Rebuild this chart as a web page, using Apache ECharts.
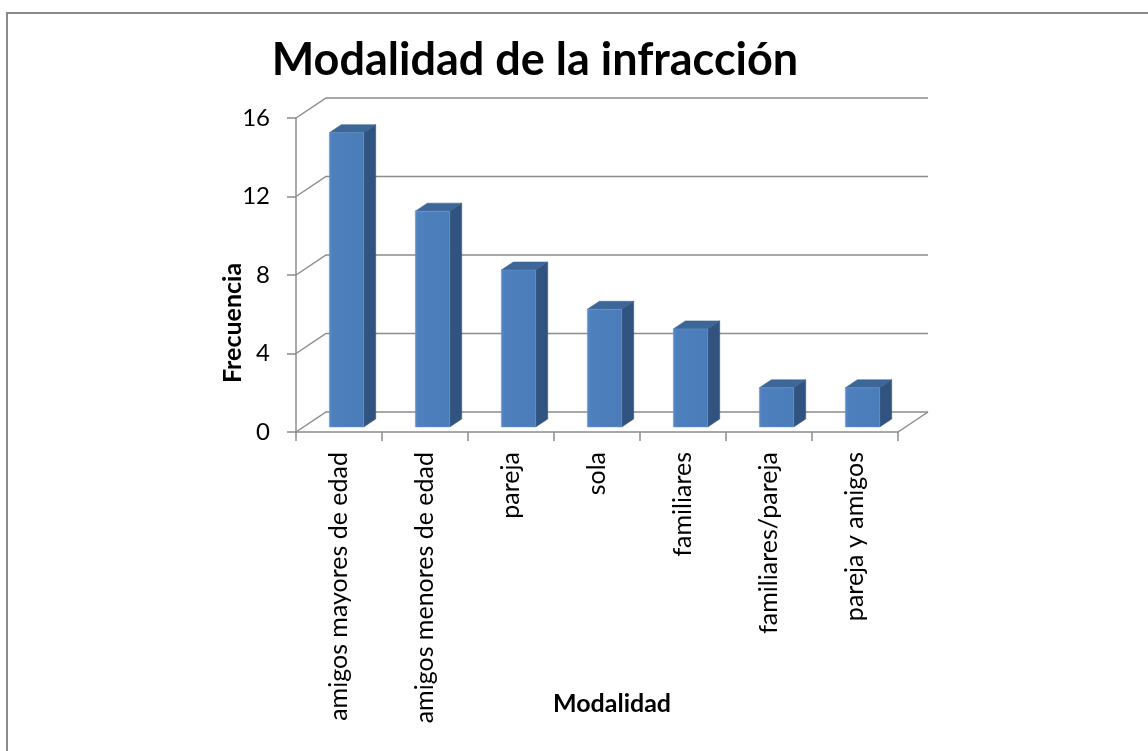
<!DOCTYPE html>
<html>
<head>
<meta charset="utf-8">
<script src="https://cdn.jsdelivr.net/npm/echarts@6/dist/echarts.min.js"></script>
<style>
html,body{margin:0;padding:0;background:#fff;}
#chart{width:1148px;height:751px;}
</style>
</head>
<body>
<div id="chart"></div>
<script>
const categories = ['amigos mayores de edad','amigos menores de edad','pareja','sola','familiares','familiares/pareja','pareja y amigos'];
const frecuencia = [15, 11, 8, 6, 5, 2, 2];
const yTicks = [0, 4, 8, 12, 16];
const titleText = 'Modalidad de la infracción';
const xName = 'Modalidad';
const yName = 'Frecuencia';

const DEPTH_X = 30, DEPTH_Y = -20;       // full depth of the 3D floor
const BAR_FRONT = 0.25, BAR_DEPTH = 0.4; // bar position within depth
const FONT = 'Lato, "Open Sans", sans-serif';
const GRID_COLOR = '#8c8c8c';

const chart = echarts.init(document.getElementById('chart'));

function renderGrid(params, api) {
  const cs = params.coordSys;
  const v = api.value(0);
  const y = api.coord([0, v])[1];
  const x0 = cs.x, x1 = cs.x + cs.width;
  const children = [{
    type: 'polyline',
    shape: { points: [[x0, y], [x0 + DEPTH_X, y + DEPTH_Y], [x1 + DEPTH_X, y + DEPTH_Y]] },
    style: { stroke: GRID_COLOR, lineWidth: 1.5, fill: null }
  }];
  if (v === 0) {
    children.push({
      type: 'line',
      shape: { x1: x1, y1: y, x2: x1 + DEPTH_X, y2: y + DEPTH_Y },
      style: { stroke: GRID_COLOR, lineWidth: 1.5 }
    });
  }
  return { type: 'group', children: children };
}

function renderBar(params, api) {
  const idx = api.value(0);
  const val = api.value(1);
  const base = api.coord([idx, 0]);
  const top = api.coord([idx, val]);
  const band = api.size([1, 0])[0];
  const w = band * 0.4;
  const ox = DEPTH_X * BAR_FRONT, oy = DEPTH_Y * BAR_FRONT;
  const dx = DEPTH_X * BAR_DEPTH, dy = DEPTH_Y * BAR_DEPTH;
  const xl = base[0] - w / 2 + ox, xr = xl + w;
  const yb = base[1] + oy, yt = top[1] + oy;
  return {
    type: 'group',
    children: [
      { type: 'polygon', shape: { points: [[xr, yb], [xr + dx, yb + dy], [xr + dx, yt + dy], [xr, yt]] },
        style: { fill: '#31537f', stroke: '#2c4a72', lineWidth: 0.5 } },
      { type: 'polygon', shape: { points: [[xl, yt], [xr, yt], [xr + dx, yt + dy], [xl + dx, yt + dy]] },
        style: { fill: '#3d6699', stroke: '#36608f', lineWidth: 0.5 } },
      { type: 'rect', shape: { x: xl, y: yt, width: w, height: yb - yt },
        style: { fill: new echarts.graphic.LinearGradient(0, 0, 1, 0, [
          { offset: 0, color: '#5a8dcb' }, { offset: 0.08, color: '#4d80bd' }, { offset: 1, color: '#4a7cb9' }]),
          stroke: '#6f9bd0', lineWidth: 0.5 } }
    ]
  };
}

chart.setOption({
  animation: false,
  backgroundColor: '#ffffff',
  title: {
    text: titleText, left: 530, top: 33, textAlign: 'center',
    textStyle: { fontFamily: FONT, fontSize: 45, fontWeight: 'bold', color: '#000' }
  },
  graphic: [
    { type: 'rect', shape: { x: 7, y: 13, width: 1160, height: 760 },
      style: { fill: null, stroke: '#8a8a8a', lineWidth: 2 }, silent: true, z: -10 },
    { type: 'text', x: 233, y: 323, rotation: Math.PI / 2,
      style: { text: yName, font: 'bold 25px ' + FONT, fill: '#000', align: 'center', verticalAlign: 'middle' } },
    { type: 'text', x: 612, y: 704,
      style: { text: xName, font: 'bold 25px ' + FONT, fill: '#000', align: 'center', verticalAlign: 'middle' } }
  ],
  grid: { left: 296, right: 250, top: 118, bottom: 319, containLabel: false },
  xAxis: {
    type: 'category', data: categories, boundaryGap: true,
    axisLine: { show: true, lineStyle: { color: GRID_COLOR, width: 1.5 } },
    axisTick: { show: true, length: 9, inside: false, lineStyle: { color: GRID_COLOR, width: 1.5 } },
    axisLabel: { rotate: 90, margin: 20, fontFamily: FONT, fontSize: 25, color: '#000', interval: 0 },
    splitLine: { show: false }
  },
  yAxis: {
    type: 'value', min: 0, max: 16, interval: 4,
    axisLine: { show: true, lineStyle: { color: GRID_COLOR, width: 1.5 } },
    axisTick: { show: true, length: 9, lineStyle: { color: GRID_COLOR, width: 1.5 } },
    axisLabel: { margin: 26, fontFamily: FONT, fontSize: 24, color: '#000' },
    splitLine: { show: false }
  },
  series: [
    { type: 'custom', renderItem: renderGrid, data: yTicks.map(v => [v]), encode: { y: 0 }, z: 1, silent: true },
    { type: 'custom', renderItem: renderBar, data: frecuencia.map((v, i) => [i, v]), encode: { x: 0, y: 1 }, z: 5 }
  ]
});
</script>
</body>
</html>
